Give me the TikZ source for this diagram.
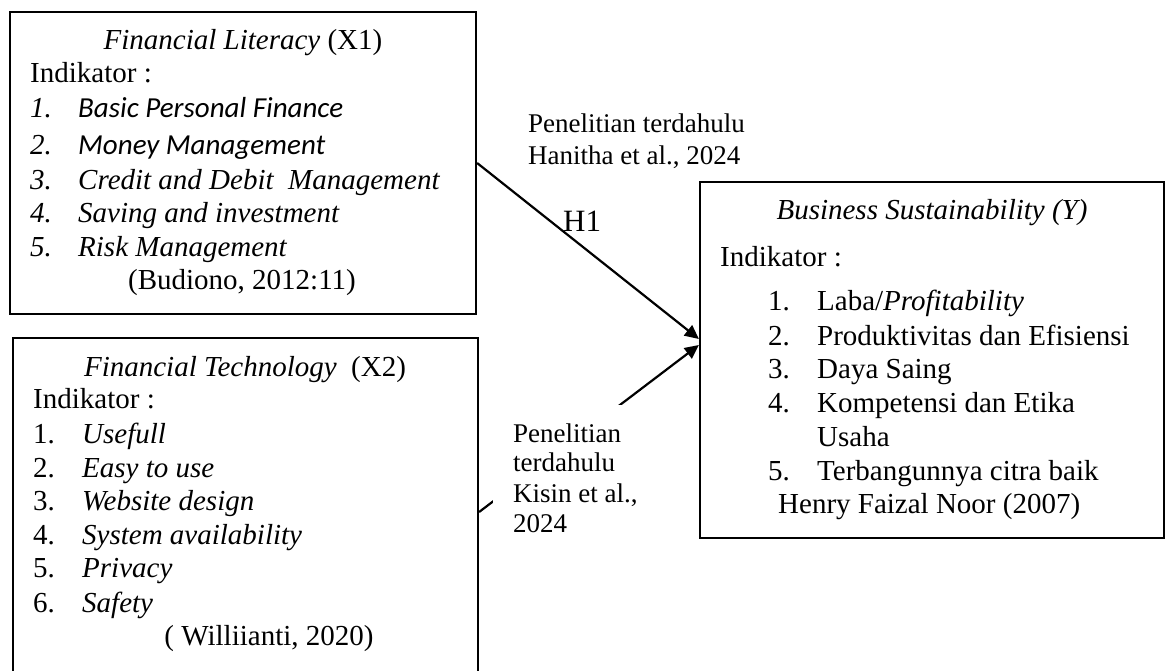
\documentclass[tikz,border=0pt]{standalone}
\usepackage{fontspec}
\setmainfont{Liberation Serif}
\newfontfamily\calfont{Carlito}
\usetikzlibrary{arrows.meta,fit}
\begin{document}
\begin{tikzpicture}[x=1pt,y=-1pt,
  box/.style={draw, line width=2.2pt, inner sep=0pt},
  txt/.style={anchor=base west, inner sep=0pt, font=\fontsize{29}{34}\selectfont},
  ctxt/.style={anchor=base, inner sep=0pt, font=\fontsize{29}{34}\selectfont},
  lbl/.style={anchor=base west, inner sep=0pt, font=\fontsize{27}{31}\selectfont},
  conn/.style={line width=2.2pt, -{Triangle[length=14pt,width=13pt]}}]
\useasboundingbox (0,0) rectangle (1168,671);
\clip (0,0) rectangle (1168,671);
\fill[white] (0,0) rectangle (1168,671);
% boxes
\node[box, fit={(10,12) (476,314)}] (x1) {};
\node[box, fit={(13,338) (478,700)}] (x2) {};
\node[box, fit={(700,182) (1164,538)}] (y) {};
% connectors
\draw[conn] (x1.east) -- ([yshift=21pt]y.west);
\draw[conn] ([yshift=7pt]x2.east) -- ([yshift=15pt]y.west);
% X1 text
\node[ctxt] (x1t) at (243,50) {\textit{Financial Literacy} (X1)};
\node[txt] (x1i) at (30,83) {Indikator :};
\node[txt] (x1n1) at (30,118) {\textit{1.}};
\node[txt] (x1a) at (78,118) {\calfont\itshape Basic Personal Finance};
\node[txt] (x1n2) at (30,155) {\textit{2.}};
\node[txt] (x1b) at (78,155) {\calfont\itshape Money Management};
\node[txt] (x1n3) at (30,190) {\textit{3.}};
\node[txt] (x1c) at (78,190) {\textit{Credit and Debit\ \ Management}};
\node[txt] (x1n4) at (30,223) {\textit{4.}};
\node[txt] (x1d) at (78,223) {\textit{Saving and investment}};
\node[txt] (x1n5) at (30,257) {\textit{5.}};
\node[txt] (x1e) at (78,257) {\textit{Risk Management}};
\node[ctxt] (x1s) at (242,290) {(Budiono, 2012:11)};
% X2 text
\node[ctxt] (x2t) at (245,376) {\textit{Financial Technology}\ \ (X2)};
\node[txt] (x2i) at (33,408) {Indikator :};
\node[txt] (x2n1) at (33,443) {1.};
\node[txt] (x2a) at (82,443) {\textit{Usefull}};
\node[txt] (x2n2) at (33,477) {2.};
\node[txt] (x2b) at (82,477) {\textit{Easy to use}};
\node[txt] (x2n3) at (33,510) {3.};
\node[txt] (x2c) at (82,510) {\textit{Website design}};
\node[txt] (x2n4) at (33,544) {4.};
\node[txt] (x2d) at (82,544) {\textit{System availability}};
\node[txt] (x2n5) at (33,577) {5.};
\node[txt] (x2e) at (82,577) {\textit{Privacy}};
\node[txt] (x2n6) at (33,612) {6.};
\node[txt] (x2f) at (82,612) {\textit{Safety}};
\node[ctxt] (x2s) at (269,645) {( Williianti, 2020)};
% Y text
\node[ctxt] (yt) at (932,220) {\textit{Business Sustainability (Y)}};
\node[txt] (yi) at (720,267) {Indikator :};
\node[txt] (yn1) at (768,310) {1.};
\node[txt] (ya) at (817,310) {Laba/\textit{Profitability}};
\node[txt] (yn2) at (768,345) {2.};
\node[txt] (yb) at (817,345) {Produktivitas dan Efisiensi};
\node[txt] (yn3) at (768,378) {3.};
\node[txt] (yc) at (817,378) {Daya Saing};
\node[txt] (yn4) at (768,412) {4.};
\node[txt] (yd) at (817,412) {Kompetensi dan Etika};
\node[txt] (yd2) at (817,446) {Usaha};
\node[txt] (yn5) at (768,480) {5.};
\node[txt] (ye) at (817,480) {Terbangunnya citra baik};
\node[txt] (ys) at (778,513) {Henry Faizal Noor (2007)};
% labels
\node[lbl] (l1a) at (528,133) {Penelitian terdahulu};
\node[lbl] (l1b) at (528,165) {Hanitha et al., 2024};
\node[anchor=base west, inner sep=0pt, font=\fontsize{31}{36}\selectfont] (h1) at (563,232) {H1};
\node[fill=white, inner sep=0pt, anchor=north west, minimum width=145pt, minimum height=140pt] (kbg) at (493,405) {};
\node[lbl] (l2a) at (513,442) {Penelitian};
\node[lbl] (l2b) at (513,471) {terdahulu};
\node[lbl] (l2c) at (513,502) {Kisin et al.,};
\node[lbl] (l2d) at (513,532) {2024};
\end{tikzpicture}
\end{document}
